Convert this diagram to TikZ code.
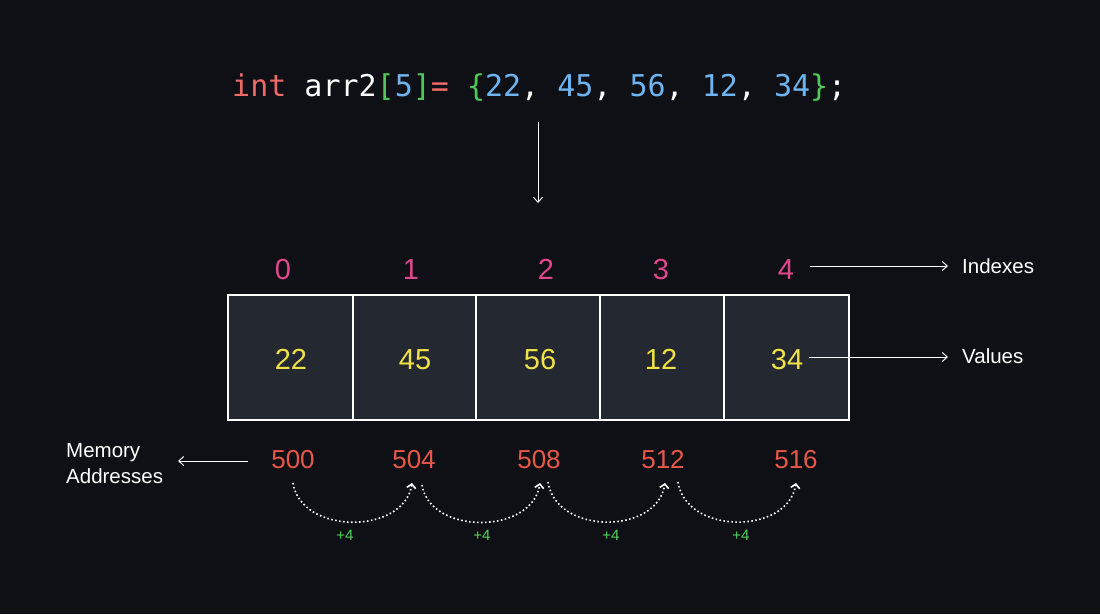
\documentclass[tikz,border=0pt]{standalone}
\usepackage{fontspec}
\setmainfont{Liberation Sans}
\newfontfamily\codefont{DejaVu Sans Mono}
\usetikzlibrary{arrows.meta}
\definecolor{bg}{RGB}{14,16,21}
\definecolor{cellfill}{RGB}{36,40,48}
\definecolor{kwred}{RGB}{240,104,104}
\definecolor{brgreen}{RGB}{80,200,90}
\definecolor{numblue}{RGB}{110,180,240}
\definecolor{idxpink}{RGB}{226,70,140}
\definecolor{valyellow}{RGB}{240,226,70}
\definecolor{addrred}{RGB}{232,88,72}
\definecolor{plusgreen}{RGB}{80,210,90}
\tikzset{
  cell/.style={draw=white,line width=1.4pt,fill=cellfill},
  idx/.style={text=idxpink,font=\fontsize{29}{30}\selectfont,anchor=base,inner sep=0pt},
  val/.style={text=valyellow,font=\fontsize{29}{30}\selectfont,anchor=base,inner sep=0pt},
  addr/.style={text=addrred,font=\fontsize{26}{28}\selectfont,anchor=base,inner sep=0pt},
  lbl/.style={text=white,font=\fontsize{20.5}{26}\selectfont,anchor=base west,inner sep=0pt},
  plus/.style={text=plusgreen,font=\fontsize{15}{16}\selectfont,anchor=base,inner sep=0pt},
  arr/.style={draw=white,line width=1pt,-{Straight Barb[length=5pt,width=9pt]}},
  hop/.style={draw=white,line width=1.6pt,dash pattern=on 1.6pt off 2.4pt,-{Straight Barb[length=4pt,width=9pt]}}
}
\begin{document}
\begin{tikzpicture}[x=1pt,y=-1pt]
\fill[bg] (0,0) rectangle (1100,614);
\useasboundingbox (0,0) rectangle (1100,614);

% code line
\node[anchor=base west,inner sep=0pt,font=\codefont\fontsize{30}{32}\selectfont] (code) at (232,96)
 {\textcolor{kwred}{int} \textcolor{white}{arr2}\textcolor{brgreen}{[}\textcolor{numblue}{5}\textcolor{brgreen}{]}\textcolor{kwred}{=} \textcolor{brgreen}{\{}\textcolor{numblue}{22}\textcolor{white}{,} \textcolor{numblue}{45}\textcolor{white}{,} \textcolor{numblue}{56}\textcolor{white}{,} \textcolor{numblue}{12}\textcolor{white}{,} \textcolor{numblue}{34}\textcolor{brgreen}{\}}\textcolor{white}{;}};
\coordinate (downtop) at (538,122);
\coordinate (downend) at (538,203);
\draw[arr] (downtop) -- (downend);

% cells
\draw[cell] (228,295) rectangle (353,420);
\draw[cell] (353,295) rectangle (476,420);
\draw[cell] (476,295) rectangle (600,420);
\draw[cell] (600,295) rectangle (724,420);
\draw[cell] (724,295) rectangle (849,420);

% indexes
\node[idx] (i0) at (283,279) {0};
\node[idx] (i1) at (411,279) {1};
\node[idx] (i2) at (546,279) {2};
\node[idx] (i3) at (661,279) {3};
\node[idx] (i4) at (786,279) {4};

% values
\node[val] (v0) at (291,369) {22};
\node[val] (v1) at (415,369) {45};
\node[val] (v2) at (540,369) {56};
\node[val] (v3) at (661,369) {12};
\node[val] (v4) at (787,369) {34};

% addresses
\node[addr] (a0) at (293,468) {500};
\node[addr] (a1) at (414,468) {504};
\node[addr] (a2) at (539,468) {508};
\node[addr] (a3) at (663,468) {512};
\node[addr] (a4) at (796,468) {516};

% labels
\node[lbl] (lidx) at (962,273) {Indexes};
\node[lbl] (lval) at (962,363) {Values};
\node[lbl,align=left,anchor=north west] (lmem) at (66,443) {Memory\\Addresses};

\coordinate (idxstart) at (810,266);
\coordinate (idxend) at (948,266);
\coordinate (valstart) at (809,357);
\coordinate (valend) at (948,357);
\coordinate (memstart) at (248,461);
\coordinate (memend) at (178,461);
\draw[arr] (idxstart) -- (idxend);
\draw[arr] (valstart) -- (valend);
\draw[arr] (memstart) -- (memend);

% hops
\draw[hop] ([shift={(0,15)}]a0.base) .. controls (301,535) and (404,535) .. ([shift={(-2,15)}]a1.base);
\draw[hop] ([shift={(8,17)}]a1.base) .. controls (430,535) and (532,535) .. ([shift={(1,15)}]a2.base);
\draw[hop] ([shift={(9,14)}]a2.base) .. controls (556,535) and (657,535) .. ([shift={(2,15)}]a3.base);
\draw[hop] ([shift={(15,14)}]a3.base) .. controls (686,535) and (788,535) .. ([shift={(0,15)}]a4.base);

\node[plus] (p0) at (345,540) {+4};
\node[plus] (p1) at (482,540) {+4};
\node[plus] (p2) at (611,540) {+4};
\node[plus] (p3) at (741,540) {+4};
\end{tikzpicture}
\end{document}
